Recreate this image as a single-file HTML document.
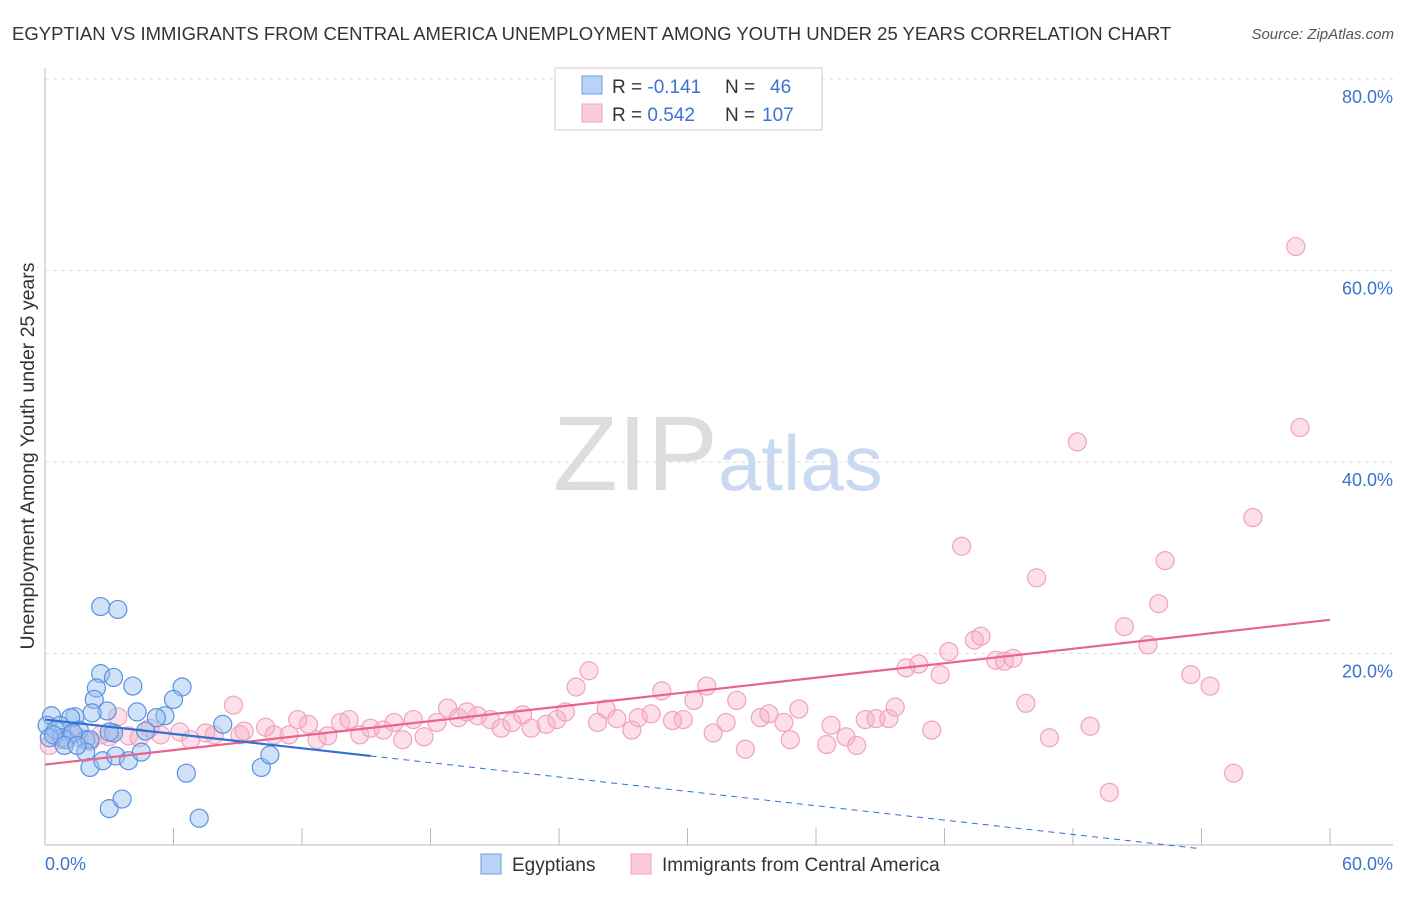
<!DOCTYPE html>
<html><head><meta charset="utf-8"><style>
body{margin:0;background:#fff;font-family:"Liberation Sans",sans-serif;}
svg text{font-family:"Liberation Sans",sans-serif;}
</style></head><body>
<svg id="c" width="1406" height="892">
<text x="12" y="40" font-size="18.5" fill="#333">EGYPTIAN VS IMMIGRANTS FROM CENTRAL AMERICA UNEMPLOYMENT AMONG YOUTH UNDER 25 YEARS CORRELATION CHART</text>
<text x="1394" y="39" font-size="15" fill="#555" font-style="italic" text-anchor="end">Source: ZipAtlas.com</text>
<g><text x="553" y="490" font-size="106" fill="#ddd" font-family="Liberation Serif">ZIP</text><text x="718" y="490" font-size="78" fill="#c9daf0">atlas</text></g>
<g id="grid"></g><g id="axes"></g><g id="pts"></g><g id="lines"></g>
<text transform="translate(34,456) rotate(-90)" font-size="19.5" fill="#333" text-anchor="middle">Unemployment Among Youth under 25 years</text>
<g>
<rect x="555" y="68" width="267" height="62" fill="#fff" stroke="#ccc"/>
<rect x="582" y="76" width="20" height="18" fill="#b9d3f5" stroke="#6c9ee6"/>
<rect x="582" y="104" width="20" height="18" fill="#fbcbd8" stroke="#f0a0b8"/>
<text x="612" y="93" font-size="19" fill="#333">R = <tspan fill="#3b73d1">-0.141</tspan></text>
<text x="725" y="93" font-size="19" fill="#333">N = <tspan x="770" fill="#3b73d1">46</tspan></text>
<text x="612" y="121" font-size="19" fill="#333">R = <tspan fill="#3b73d1">0.542</tspan></text>
<text x="725" y="121" font-size="19" fill="#333">N = <tspan x="762" fill="#3b73d1">107</tspan></text>
</g>
<g>
<rect x="481" y="854" width="20" height="20" fill="#b9d3f5" stroke="#6c9ee6"/>
<text x="512" y="871" font-size="19" fill="#333">Egyptians</text>
<rect x="631" y="854" width="20" height="20" fill="#fbcbd8" stroke="#f0a0b8"/>
<text x="662" y="871" font-size="19" fill="#333">Immigrants from Central America</text>
</g>
</svg>
<script>
const yTicks=[20,40,60,80];
const yTickLabels=["20.0%","40.0%","60.0%","80.0%"];
const xTicks=[0,6,12,18,24,30,36,42,48,54,60];
const egX=[2.6,3.4,2.6,3.2,2.4,2.3,4.1,6.4,6.0,2.9,4.3,5.6,5.2,2.2,0.3,1.4,1.2,0.1,0.7,0.5,0.8,0.2,1.0,1.6,1.9,2.1,3.2,4.7,8.3,3.0,1.9,2.1,2.7,3.3,3.9,4.5,6.6,10.1,10.5,3.0,3.6,7.2,0.4,1.3,0.9,1.5];
const egY=[24.9,24.6,17.9,17.5,16.4,15.2,16.6,16.5,15.2,14.0,13.9,13.5,13.3,13.8,13.5,13.4,13.3,12.5,12.5,12.0,11.2,11.2,11.0,12.0,11.0,11.0,11.7,11.9,12.6,11.8,9.7,8.1,8.8,9.3,8.8,9.7,7.5,8.1,9.4,3.8,4.8,2.8,11.5,11.7,10.4,10.4];
const caX=[3.4,8.8,3.9,5.4,6.3,7.5,6.8,7.9,9.1,9.3,10.3,10.7,11.4,11.8,12.3,12.7,13.2,13.8,14.2,14.7,15.2,15.8,16.3,16.7,17.2,17.7,18.3,18.8,19.3,19.7,20.2,20.8,21.3,21.8,22.3,22.7,23.4,23.9,24.3,24.8,25.4,25.8,26.2,26.7,27.4,27.7,28.3,28.8,29.3,29.8,30.3,30.9,31.2,31.8,32.3,32.7,33.4,33.8,34.5,34.8,35.2,36.5,36.7,37.4,37.9,38.3,38.8,39.4,39.7,40.2,40.8,41.4,41.8,42.2,42.8,43.4,43.7,44.4,44.8,45.2,45.8,46.3,46.9,48.2,48.8,49.7,50.4,51.5,52.0,52.3,53.5,54.4,55.5,56.4,58.4,58.6,0.7,1.6,2.6,4.4,1.2,2.1,3.0,4.9,0.2];
const caY=[13.4,14.6,11.4,11.5,11.8,11.7,11.0,11.5,11.5,11.9,12.3,11.5,11.5,13.1,12.6,11.0,11.4,12.8,13.1,11.5,12.2,12.0,12.8,11.0,13.1,11.3,12.8,14.3,13.3,13.9,13.5,13.1,12.2,12.8,13.6,12.2,12.6,13.1,13.9,16.5,18.2,12.8,14.2,13.2,12.0,13.3,13.7,16.1,13.0,13.1,15.1,16.6,11.7,12.8,15.1,10.0,13.3,13.7,12.8,11.0,14.2,10.5,12.5,11.3,10.4,13.1,13.2,13.2,14.4,18.5,18.9,12.0,17.8,20.2,31.2,21.4,21.8,19.3,19.2,19.5,14.8,27.9,11.2,42.1,12.4,5.5,22.8,20.9,25.2,29.7,17.8,16.6,7.5,34.2,62.5,43.6,11.0,11.2,11.5,11.2,11.5,10.8,11.3,12.2,10.4];
const egTrend=[13.1,-0.25];
const caTrend=[8.4,0.252];
const X=v=>45+v*1285/60, Y=v=>845-v*191.5/20;
const NS="http://www.w3.org/2000/svg";
function mk(p,t,a){const e=document.createElementNS(NS,t);for(const k in a)e.setAttribute(k,a[k]);document.getElementById(p).appendChild(e);return e;}
yTicks.forEach((t,i)=>{
 const g=mk('grid','line',{x1:45,x2:1393,y1:Y(t),y2:Y(t),stroke:'#ddd','stroke-dasharray':'4,4'});
 
 
 const l=mk('grid','text',{x:1393,y:Y(t)+24,'font-size':18,fill:'#3b73d1','text-anchor':'end'});l.textContent=yTickLabels[i];
 
 
});
const ax=mk('axes','line',{x1:45,x2:45,y1:68,y2:845,stroke:'#bbb'});


const bx=mk('axes','line',{x1:45,x2:1393,y1:845,y2:845,stroke:'#bbb'});


xTicks.forEach(t=>{const e=mk('axes','line',{x1:X(t),x2:X(t),y1:828,y2:845,stroke:'#bbb'});
 
 });
const x0=mk('axes','text',{x:45,y:870,'font-size':18,fill:'#3b73d1'});x0.textContent="0.0%";


const x1=mk('axes','text',{x:1393,y:870,'font-size':18,fill:'#3b73d1','text-anchor':'end'});x1.textContent="60.0%";


caX.forEach((v,i)=>{const c=mk('pts','circle',{cx:X(v),cy:Y(caY[i]),r:9,fill:'rgba(248,175,198,0.4)',stroke:'#f0a3ba','stroke-width':1.2});
 
 });
egX.forEach((v,i)=>{const c=mk('pts','circle',{cx:X(v),cy:Y(egY[i]),r:9,fill:'rgba(150,190,240,0.45)',stroke:'#5b92e0','stroke-width':1.2});
 
 });
const pl=mk('lines','line',{x1:X(0),y1:Y(caTrend[0]),x2:X(60),y2:Y(caTrend[0]+60*caTrend[1]),stroke:'#e8648f','stroke-width':2.2});


const bl=mk('lines','line',{x1:X(0),y1:Y(egTrend[0]),x2:X(15.2),y2:Y(egTrend[0]+15.2*egTrend[1]),stroke:'#2f6fd6','stroke-width':2.2});


const bd=mk('lines','line',{x1:X(15.2),y1:Y(egTrend[0]+15.2*egTrend[1]),x2:X(54),y2:Y(egTrend[0]+54*egTrend[1]),stroke:'#2f6fd6','stroke-width':1,'stroke-dasharray':'6,5'});


</script>
</body></html>
